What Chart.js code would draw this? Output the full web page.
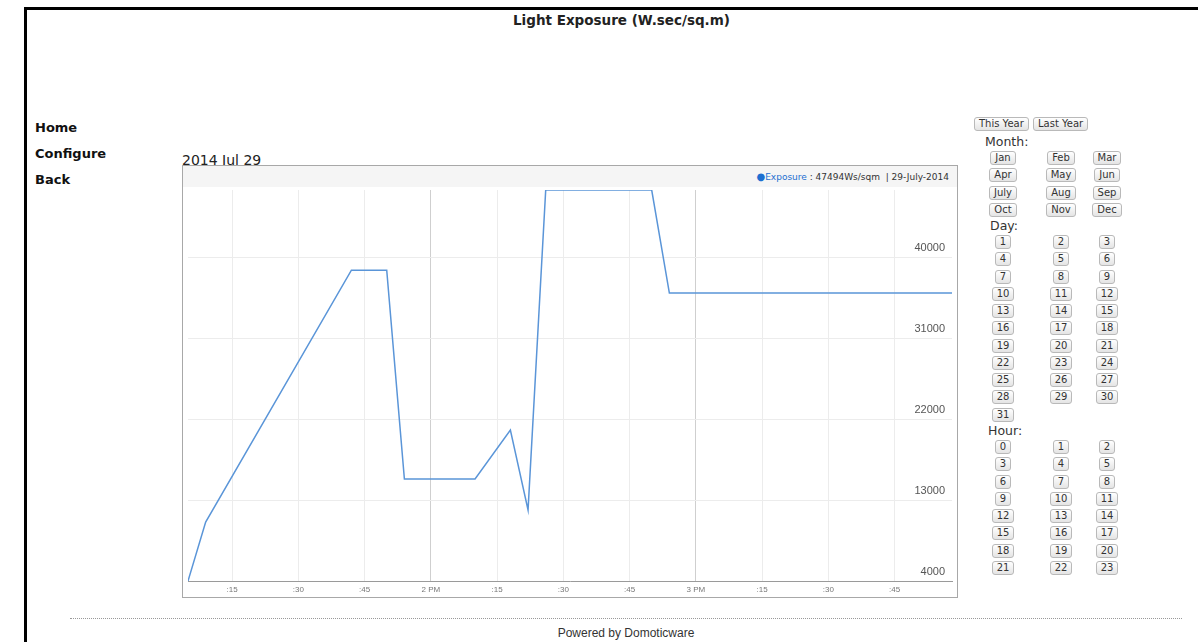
<!DOCTYPE html>
<html>
 <head>
  <title>Light Exposure</title>
  <meta charset="utf-8">
  <script src="https://cdn.jsdelivr.net/npm/chart.js"></script>
  <style>
    body { margin: 0; background: #fff; font-family: "DejaVu Sans", sans-serif; color: #222; }
    #page { position: absolute; left: 0; top: 0; width: 1198px; height: 642px; overflow: hidden; }
    #frame { position: absolute; left: 24px; top: 7px; width: 1200px; height: 700px; border-left: 3px solid #000; border-top: 3px solid #000; }
    #title { position: absolute; left: 513px; top: 12px; font-weight: bold; font-size: 13.5px; }
    .nav { position: absolute; left: 35px; font-weight: bold; font-size: 13px; color: #111; }
    #date { position: absolute; left: 182px; top: 152px; font-size: 14px; color: #222; }
    #box { position: absolute; left: 182px; top: 165px; width: 774px; height: 431px; border: 1px solid #a8a8a8; }
    #strip { position: absolute; left: 0; top: 0; width: 774px; height: 21px; background: #f5f5f5; }
    #legend { position: absolute; right: 8px; top: 5px; font-size: 9px; color: #333; white-space: nowrap; }
    #legend .dot { color: #1d6fd1; font-size: 10px; }
    #legend .name { color: #1d6fd1; }
    #myChart { position: absolute; left: 0; top: 0; }
    .btn { display: inline-block; vertical-align: top; box-sizing: border-box; font-size: 10px; line-height: 12px; height: 14px; padding: 0 4px;
           border: 1px solid #b9b9b9; border-radius: 3px; background: linear-gradient(#ffffff, #e4e4e4); color: #333; }
    .lbl { position: absolute; font-size: 12.5px; color: #333; }
    .cell { position: absolute; width: 50px; height: 14px; line-height: 14px; text-align: center; }
    #sep { position: absolute; left: 70px; top: 618px; width: 1112px; border-top: 1px dotted #999; }
    #footer { position: absolute; left: 0; width: 1252px; top: 626px; text-align: center; font-family: "Liberation Sans", sans-serif; font-size: 12px; color: #333; }
  </style>
 </head>
 <body>
  <div id="page">
    <div id="frame"></div>
    <div id="title">Light Exposure (W.sec/sq.m)</div>
    <div class="nav" style="top:120px">Home</div>
    <div class="nav" style="top:146px">Configure</div>
    <div class="nav" style="top:172px">Back</div>
    <div id="date">2014 Jul 29</div>
    <div id="box">
      <canvas id="myChart" width="774" height="431"></canvas>
      <div id="strip"><div id="legend"><span class="dot">&#9679;</span><span class="name">Exposure</span> : 47494Ws/sqm &nbsp;| 29-July-2014</div></div>
    </div>
    <div id="panel"></div>
    <div id="sep"></div>
    <div id="footer">Powered by Domoticware</div>
  </div>
  <script type="text/javascript">
    // minutes after 1 PM
    var times = [5, 9, 42, 50, 54, 70, 78, 82, 86, 110, 114, 178];
    var exposure = [4000, 10560, 38580, 38580, 15340, 15340, 20790, 11900, 47494, 47494, 36030, 36030];
    var yTicks = [4000, 13000, 22000, 31000, 40000];
    var xTicks = [15, 30, 45, 60, 75, 90, 105, 120, 135, 150, 165];
    var xTickLabels = [':15', ':30', ':45', '2 PM', ':15', ':30', ':45', '3 PM', ':15', ':30', ':45'];

    var months = ['Jan', 'Feb', 'Mar', 'Apr', 'May', 'Jun', 'July', 'Aug', 'Sep', 'Oct', 'Nov', 'Dec'];
    var days = [];
    for (var d = 1; d <= 31; d++) days.push(d);
    var hours = [];
    for (var h = 0; h <= 23; h++) hours.push(h);

    // right side buttons
    var panel = document.getElementById("panel");
    var colCenters = [1003, 1061, 1107];
    function addBtn(text, left, top) {
        var b = document.createElement("div");
        b.className = "btn";
        b.textContent = text;
        b.style.position = "absolute";
        b.style.left = left + "px";
        b.style.top = top + "px";
        panel.appendChild(b);
    }
    function addLabel(text, left, top) {
        var l = document.createElement("div");
        l.className = "lbl";
        l.textContent = text;
        l.style.left = left + "px";
        l.style.top = top + "px";
        panel.appendChild(l);
    }
    function addGrid(items, firstTop) {
        items.forEach(function (it, i) {
            var c = document.createElement("div");
            c.className = "cell";
            c.style.left = (colCenters[i % 3] - 25) + "px";
            c.style.top = (firstTop + Math.floor(i / 3) * 17.25) + "px";
            var b = document.createElement("span");
            b.className = "btn";
            b.textContent = it;
            c.appendChild(b);
            panel.appendChild(c);
        });
    }
    addBtn("This Year", 974, 117);
    addBtn("Last Year", 1033, 117);
    addLabel("Month:", 985, 134);
    addGrid(months, 151);
    addLabel("Day:", 990, 218);
    addGrid(days, 235);
    addLabel("Hour:", 988, 423);
    addGrid(hours, 440);

    var ctx = document.getElementById('myChart').getContext('2d');
    var myChart = new Chart(ctx, {
        type: 'line',
        data: {
            datasets: [{
                label: 'Exposure',
                data: times.map(function (t, i) { return { x: t, y: exposure[i] }; }),
                borderColor: '#5a95d8',
                borderWidth: 1.5,
                pointRadius: 0,
                fill: false,
                tension: 0
            }]
        },
        options: {
            responsive: false,
            animation: false,
            layout: { padding: { left: 5, right: 5, top: 24, bottom: 0 } },
            plugins: { legend: { display: false }, tooltip: { enabled: false } },
            scales: {
                x: {
                    type: 'linear',
                    min: 5,
                    max: 178,
                    afterBuildTicks: function (s) { s.ticks = xTicks.map(function (v) { return { value: v }; }); },
                    afterFit: function (s) { s.height = 16; },
                    ticks: {
                        autoSkip: false, maxRotation: 0, padding: 4,
                        font: { size: 8, family: 'Liberation Sans' }, color: '#777',
                        callback: function (v) { return xTickLabels[xTicks.indexOf(v)]; }
                    },
                    grid: {
                        drawTicks: false,
                        color: function (c) { return (c.tick && c.tick.value % 60 === 0) ? '#cfcfcf' : '#ececec'; }
                    },
                    border: { color: '#9a9a9a' }
                },
                y: {
                    position: 'right',
                    min: 4000,
                    max: 47494,
                    afterBuildTicks: function (s) { s.ticks = yTicks.map(function (v) { return { value: v }; }); },
                    afterFit: function (s) { s.width = 0; },
                    ticks: {
                        mirror: true, padding: -7, labelOffset: -9,
                        font: { size: 11, family: 'Liberation Sans' }, color: '#555',
                        callback: function (v) { return String(v); }
                    },
                    grid: { drawTicks: false, color: '#ececec' },
                    border: { display: false }
                }
            }
        }
    });
  </script>
 </body>
</html>
